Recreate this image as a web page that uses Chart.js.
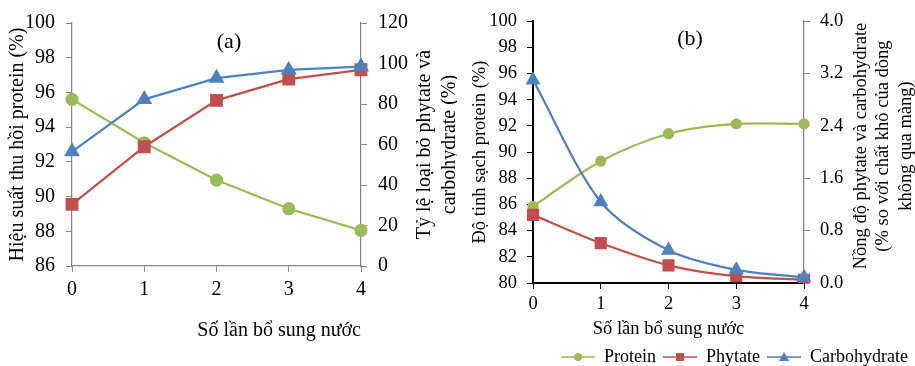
<!DOCTYPE html>
<html>
<head>
<meta charset="utf-8">
<script src="https://cdn.jsdelivr.net/npm/chart.js@4.4.0/dist/chart.umd.min.js"></script>
<style>
html, body { margin: 0; padding: 0; background: #fff; overflow: hidden; width: 915px; height: 366px; }
#wrap-a { position: absolute; left: 0; top: 0; }
#wrap-b { position: absolute; left: 457px; top: 0; }
</style>
</head>
<body>
<div id="wrap-a"><canvas id="chart-a" width="457" height="366"></canvas></div>
<div id="wrap-b"><canvas id="chart-b" width="458" height="376"></canvas></div>
<script>
// data
const soLanBoSung = ['0', '1', '2', '3', '4'];

const proteinA = [95.6, 93.1, 90.95, 89.3, 88.05];
const phytateA = [30.4, 58.9, 81.8, 92.3, 96.9];
const carbA = [56.5, 82.3, 92.8, 96.8, 98.5];

const proteinB = [85.85, 89.3, 91.4, 92.15, 92.15];
const phytateB = [1.04, 0.61, 0.27, 0.105, 0.05];
const carbB = [3.1, 1.24, 0.5, 0.2, 0.085];

const leftTicksA = [86, 88, 90, 92, 94, 96, 98, 100];
const rightTicksA = [0, 20, 40, 60, 80, 100, 120];
const leftTicksB = [80, 82, 84, 86, 88, 90, 92, 94, 96, 98, 100];
const rightTicksB = [0, 0.8, 1.6, 2.4, 3.2, 4.0];

const GREEN = '#9BBB59';
const RED = '#C0504D';
const BLUE = '#4F81BD';
const GRAY = '#868686';
const serif = '"Liberation Serif", "Times New Roman", serif';

function setTicks(list) {
    return scale => { scale.ticks = list.map(v => ({ value: v })) }
}

function fixWidth(w) {
    return scale => { scale.width = w }
}

function fixHeight(h) {
    return scale => { scale.height = h }
}

// small line+marker picture for the legend
function legendIcon(color, shape) {
    const c = document.createElement('canvas');
    c.width = 34;
    c.height = 12;
    const g = c.getContext('2d');
    g.strokeStyle = color;
    g.fillStyle = color;
    g.lineWidth = 1.5;
    g.beginPath();
    g.moveTo(0, 6);
    g.lineTo(34, 6);
    g.stroke();
    g.beginPath();
    if (shape === 'circle') {
        g.arc(17, 6, 4, 0, Math.PI * 2);
    } else if (shape === 'rect') {
        g.rect(13, 2, 8, 8);
    } else {
        g.moveTo(17, 1);
        g.lineTo(22, 10);
        g.lineTo(12, 10);
        g.closePath();
    }
    g.fill();
    return c;
}

// panel label and the right axis title (reads bottom to top like the left one)
const sideText = {
    id: 'sideText',
    afterDraw(chart, args, opts) {
        const ctx = chart.ctx;
        const area = chart.chartArea;
        const r = chart.scales.y1;
        ctx.save();
        ctx.fillStyle = '#000';
        ctx.textAlign = 'center';
        ctx.textBaseline = 'middle';
        ctx.font = opts.labelSize + 'px ' + serif;
        ctx.fillText(opts.label, area.left + opts.labelX, opts.labelY);
        ctx.font = opts.size + 'px ' + serif;
        const yc = (area.top + area.bottom) / 2 + opts.yShift;
        opts.lines.forEach((t, i) => {
            ctx.save();
            ctx.translate(r.left + opts.lineX + i * opts.lineGap, yc);
            ctx.rotate(-Math.PI / 2);
            ctx.fillText(t, 0, 0);
            ctx.restore();
        });
        ctx.restore();
    }
};

function lineSets(protein, phytate, carb, sizes, tension) {
    return [
        {
            label: 'Protein', data: protein, yAxisID: 'y', order: 3,
            borderColor: GREEN, backgroundColor: GREEN, pointBackgroundColor: GREEN, pointBorderColor: GREEN,
            pointStyle: 'circle', pointRadius: sizes[0], borderWidth: 2.25, tension: tension
        },
        {
            label: 'Phytate', data: phytate, yAxisID: 'y1', order: 2,
            borderColor: RED, backgroundColor: RED, pointBackgroundColor: RED, pointBorderColor: RED,
            pointStyle: 'rect', pointRadius: sizes[1], borderWidth: 2.25, tension: tension
        },
        {
            label: 'Carbohydrate', data: carb, yAxisID: 'y1', order: 1,
            borderColor: BLUE, backgroundColor: BLUE, pointBackgroundColor: BLUE, pointBorderColor: BLUE,
            pointStyle: 'triangle', pointRadius: sizes[2], borderWidth: 2.25, tension: tension
        }
    ];
}

// (a)
new Chart(document.querySelector('#chart-a').getContext('2d'), {
    type: 'line',
    data: {
        labels: soLanBoSung,
        datasets: lineSets(proteinA, phytateA, carbA, [5.5, 7.5, 7], 0)
    },
    plugins: [sideText],
    options: {
        responsive: false,
        animation: false,
        layout: { padding: { top: 18, left: 0, right: 0, bottom: 0 } },
        plugins: {
            legend: { display: false },
            tooltip: { enabled: false },
            sideText: {
                label: '(a)', labelX: 157, labelY: 42, labelSize: 22,
                lines: ['Tỷ lệ loại bỏ phytate và', 'carbohydrate (%)'],
                lineX: 64, lineGap: 25, size: 20, yShift: 0
            }
        },
        scales: {
            x: {
                offset: false,
                afterFit: fixHeight(100),
                grid: { drawOnChartArea: false, tickLength: 6, color: GRAY },
                border: { color: GRAY, width: 1.25 },
                ticks: { color: '#000', padding: 6, font: { family: serif, size: 20 } },
                title: {
                    display: true, text: 'Số lần bổ sung nước', align: 'end', color: '#000',
                    padding: { top: 0, bottom: 23 }, font: { family: serif, size: 20 }
                }
            },
            y: {
                position: 'left', min: 86, max: 100,
                afterBuildTicks: setTicks(leftTicksA),
                afterFit: fixWidth(72),
                grid: { drawOnChartArea: false, tickLength: 6, color: GRAY },
                border: { color: GRAY, width: 1.25 },
                ticks: { color: '#000', padding: 11, font: { family: serif, size: 20 } },
                title: {
                    display: true, text: 'Hiệu suất thu hồi protein (%)', color: '#000',
                    padding: { top: 6, bottom: 0 }, font: { family: serif, size: 20 }
                }
            },
            y1: {
                position: 'right', min: 0, max: 120,
                afterBuildTicks: setTicks(rightTicksA),
                afterFit: fixWidth(96),
                grid: { drawOnChartArea: false, tickLength: 6, color: GRAY },
                border: { color: GRAY, width: 1.25 },
                ticks: { color: '#000', padding: 11, font: { family: serif, size: 20 } }
            }
        }
    }
});

// (b)
new Chart(document.querySelector('#chart-b').getContext('2d'), {
    type: 'line',
    data: {
        labels: soLanBoSung,
        datasets: lineSets(proteinB, phytateB, carbB, [4.5, 7, 6.5], 0.3)
    },
    plugins: [sideText],
    options: {
        responsive: false,
        animation: false,
        layout: { padding: { top: 18, left: 0, right: 0, bottom: 0 } },
        plugins: {
            legend: {
                display: true,
                position: 'bottom',
                align: 'end',
                labels: {
                    usePointStyle: true,
                    pointStyleWidth: 34,
                    padding: 7,
                    color: '#000',
                    font: { family: serif, size: 18 },
                    generateLabels: chart => chart.data.datasets.map((ds, i) => ({
                        text: ds.label,
                        fontColor: '#000',
                        pointStyle: legendIcon(ds.borderColor, ds.pointStyle),
                        fillStyle: ds.borderColor,
                        strokeStyle: ds.borderColor,
                        lineWidth: 0,
                        hidden: false,
                        datasetIndex: i
                    }))
                }
            },
            tooltip: { enabled: false },
            sideText: {
                label: '(b)', labelX: 157, labelY: 39, labelSize: 22,
                lines: ['Nồng độ phytate và carbohydrate', '(% so với chất khô của dòng', 'không qua màng)'],
                lineX: 57, lineGap: 22.5, size: 18.5, yShift: -6
            }
        },
        scales: {
            x: {
                offset: false,
                afterFit: fixHeight(58),
                grid: { drawOnChartArea: false, tickLength: 6, color: '#000' },
                border: { color: '#000', width: 2 },
                ticks: { color: '#000', padding: 4, font: { family: serif, size: 18.5 } },
                title: {
                    display: true, text: 'Số lần bổ sung nước', color: '#000',
                    padding: { top: 0, bottom: 1 }, font: { family: serif, size: 18.5 }
                }
            },
            y: {
                position: 'left', min: 80, max: 100,
                afterBuildTicks: setTicks(leftTicksB),
                afterFit: fixWidth(76),
                grid: { drawOnChartArea: false, tickLength: 6, color: '#000' },
                border: { color: '#000', width: 2 },
                ticks: { color: '#000', padding: 10, font: { family: serif, size: 18.5 } },
                title: {
                    display: true, text: 'Độ tinh sạch protein (%)', color: '#000',
                    padding: { top: 12, bottom: 0 }, font: { family: serif, size: 18.5 }
                }
            },
            y1: {
                position: 'right', min: 0, max: 4,
                afterBuildTicks: setTicks(rightTicksB),
                afterFit: fixWidth(111),
                grid: { drawOnChartArea: false, tickLength: 6, color: GRAY },
                border: { color: GRAY, width: 1.25 },
                ticks: {
                    color: '#000', padding: 10, font: { family: serif, size: 18.5 },
                    callback: v => v.toFixed(1)
                }
            }
        }
    }
});
</script>
</body>
</html>
